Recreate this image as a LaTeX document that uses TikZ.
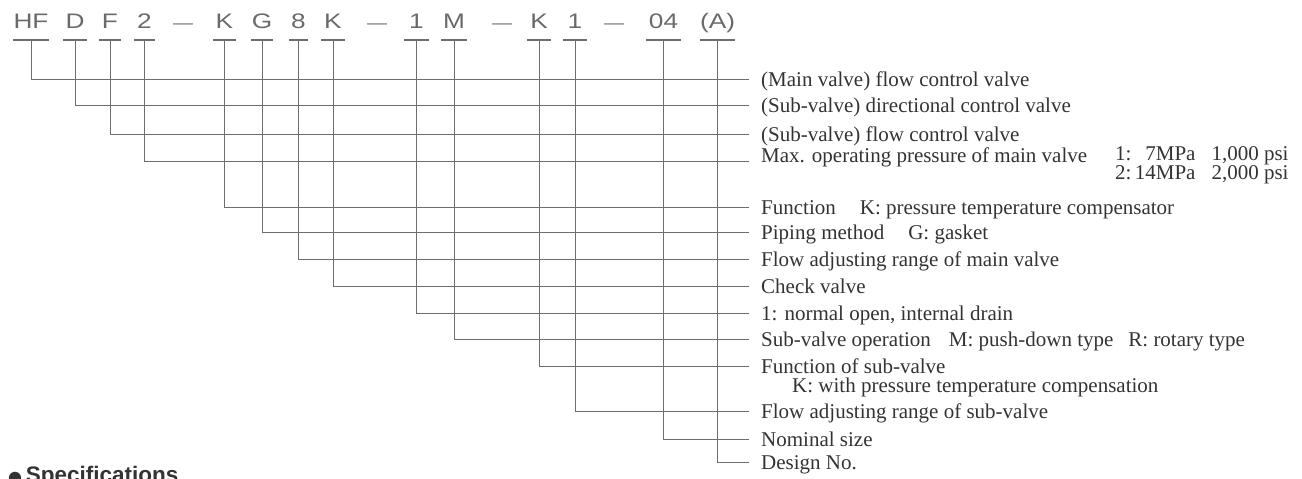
\documentclass[tikz,border=0pt]{standalone}
\usepackage{fontspec}
\setmainfont{Liberation Serif}
\setsansfont{Liberation Sans}
\newfontfamily\codefont{Liberation Sans}[FakeStretch=1.25]
\newfontfamily\symbolfont{DejaVu Sans}
\usetikzlibrary{positioning}

\definecolor{inkgray}{HTML}{333333}
\definecolor{codegray}{HTML}{6A6A6A}
\definecolor{wiregray}{HTML}{6E6E6E}

% two lines whose base is the first line
\newcommand{\twolines}[2]{\begin{tabular}[t]{@{}l@{}}#1\\[-1pt]#2\end{tabular}}

\tikzset{
  code/.style={font=\codefont\fontsize{21}{21}\selectfont, text=codegray, anchor=south,
    inner xsep=0pt, inner ysep=0pt, text height=15pt, text depth=11.5pt},
  codedash/.style={code, font=\codefont\fontsize{16}{16}\selectfont},
  uline/.style={draw=wiregray, line width=1.1pt},
  wire/.style={draw=wiregray, line width=1pt},
  lbl/.style={font=\fontsize{21}{19.4}\selectfont, text=inkgray, anchor=base west,
    inner sep=0pt},
  spec/.style={font=\sffamily\bfseries\fontsize{22.5}{22.5}\selectfont, text=inkgray,
    anchor=base west, inner sep=0pt}
}

\begin{document}
\begin{tikzpicture}[x=1pt,y=-1pt]
  \useasboundingbox (0,0) rectangle (1302,479);
  % model code, one underlined part per row
  \foreach \n/\x/\t/\w/\y in {1/31/HF/36/79, 2/75/D/24/105.7, 3/110/F/21/134,
      4/144.5/2/21/161, 5/224.5/K/23/207, 6/262/G/22/232.5, 7/298.5/8/19/259.3,
      8/333/K/24/286, 9/416.5/1/25/313, 10/454/M/26/339.3, 11/539/K/24/366,
      12/575/1/24/411, 13/663.5/04/35/439.3, 14/717.5/{(A)}/35/462.7} {
    \node[code, minimum width=\w pt] (c\n) at (\x,40) {\t};
    \coordinate (e\n) at (749,\y);
    \draw[uline] (c\n.south west) -- (c\n.south east);
    \draw[wire] (c\n.south) |- (e\n);
  }
  \node[codedash] (d1) at (183,40) {—};
  \node[codedash] (d2) at (377,40) {—};
  \node[codedash] (d3) at (502,40) {—};
  \node[codedash] (d4) at (614,40) {—};
  % meaning of each part
  \node[lbl] (l1) at ([xshift=12pt,yshift=-7pt]e1) {(Main valve) flow control valve};
  \node[lbl] (l2) at ([xshift=12pt,yshift=-7pt]e2) {(Sub-valve) directional control valve};
  \node[lbl] (l3) at ([xshift=12pt,yshift=-7pt]e3) {(Sub-valve) flow control valve};
  \node[lbl] (l4) at ([xshift=12pt,yshift=-1pt]e4) {Max. operating pressure of main valve};
  \node[lbl] (p4) at (1115,160.5) {\twolines{1:\makebox[64pt][r]{7MPa}\hspace{16pt}1,000 psi}
    {2:\makebox[64pt][r]{14MPa}\hspace{16pt}2,000 psi}};
  \node[lbl] (l5) at ([xshift=12pt,yshift=-7pt]e5) {Function\hspace{24pt}K: pressure temperature compensator};
  \node[lbl] (l6) at ([xshift=12pt,yshift=-7pt]e6) {Piping method\hspace{24pt}G: gasket};
  \node[lbl] (l7) at ([xshift=12pt,yshift=-7pt]e7) {Flow adjusting range of main valve};
  \node[lbl] (l8) at ([xshift=12pt,yshift=-7pt]e8) {Check valve};
  \node[lbl] (l9) at ([xshift=12pt,yshift=-7pt]e9) {1: normal open, internal drain};
  \node[lbl] (l10) at ([xshift=12pt,yshift=-7pt]e10) {Sub-valve operation\hspace{18pt}M: push-down type\hspace{15pt}R: rotary type};
  \node[lbl] (l11) at ([xshift=12pt,yshift=-7pt]e11) {\twolines{Function of sub-valve}
    {\hspace{31pt}K: with pressure temperature compensation}};
  \node[lbl] (l12) at ([xshift=12pt,yshift=-7pt]e12) {Flow adjusting range of sub-valve};
  \node[lbl] (l13) at ([xshift=12pt,yshift=-7pt]e13) {Nominal size};
  \node[lbl] (l14) at ([xshift=12pt,yshift=-7pt]e14) {Design No.};
  % next section heading, cut by the page edge
  \node[spec] (spec) at (8,482.5) {{\symbolfont\fontsize{16}{16}\selectfont ●}\,Specifications};
\end{tikzpicture}
\end{document}
